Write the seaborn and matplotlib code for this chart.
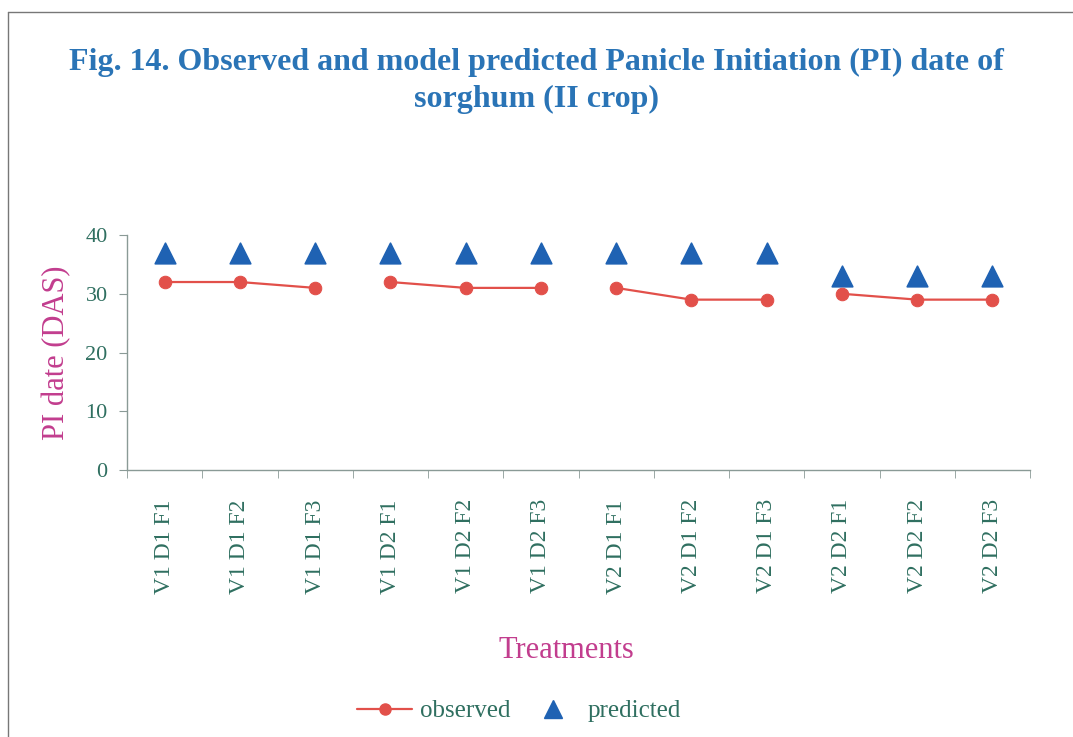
import matplotlib
matplotlib.use("Agg")
import matplotlib.pyplot as plt
from matplotlib.lines import Line2D
import seaborn as sns
import pandas as pd

# data
treatments = ["V1 D1 F1", "V1 D1 F2", "V1 D1 F3",
              "V1 D2 F1", "V1 D2 F2", "V1 D2 F3",
              "V2 D1 F1", "V2 D1 F2", "V2 D1 F3",
              "V2 D2 F1", "V2 D2 F2", "V2 D2 F3"]
groups = ["V1 D1"] * 3 + ["V1 D2"] * 3 + ["V2 D1"] * 3 + ["V2 D2"] * 3
observed = [32, 32, 31, 32, 31, 31, 31, 29, 29, 30, 29, 29]
predicted = [37, 37, 37, 37, 37, 37, 37, 37, 37, 33, 33, 33]

df = pd.DataFrame({"pos": range(len(treatments)), "treatment": treatments,
                   "group": groups, "observed": observed, "predicted": predicted})

sns.set_style("white")
plt.rcParams["font.family"] = ["Liberation Serif", "DejaVu Serif"]

red = "#e2504a"
blue = "#1f62b3"
teal = "#2f6f60"
pink = "#c23d8e"
title_blue = "#2a74b6"

fig = plt.figure(figsize=(10.73, 7.37), dpi=100)
ax = fig.add_axes([0.1184, 0.3623, 0.8416, 0.3188])

sns.lineplot(data=df, x="pos", y="observed", units="group", estimator=None,
             color=red, marker="o", markersize=9, markeredgecolor=red,
             linewidth=1.6, ax=ax, legend=False)
sns.scatterplot(data=df, x="pos", y="predicted", marker="^", color=blue,
                s=220, edgecolor=blue, ax=ax, legend=False)

ax.set_xlim(-0.5, len(treatments) - 0.5)
ax.set_ylim(0, 40)
ax.set_yticks([0, 10, 20, 30, 40])
ax.set_xticks(df["pos"])
ax.set_xticklabels(treatments, rotation=90)
ax.set_xticks([i + 0.5 for i in range(-1, len(treatments))], minor=True)
ax.tick_params(axis="x", which="major", length=0, pad=21, labelsize=17, labelcolor=teal)
ax.tick_params(axis="x", which="minor", length=6, direction="out", color="#8a9a96", bottom=True)
ax.tick_params(axis="y", length=6, direction="out", color="#8a9a96", left=True,
               labelsize=16, labelcolor=teal, pad=8)

for side in ["top", "right"]:
    ax.spines[side].set_visible(False)
for side in ["left", "bottom"]:
    ax.spines[side].set_color("#8a9a96")
    ax.spines[side].set_linewidth(1.0)

ax.set_xlabel("")
ax.set_ylabel("PI date (DAS)", fontsize=22, color=pink, labelpad=10)

fig.text(0.5, 0.89, "Fig. 14. Observed and model predicted Panicle Initiation (PI) date of\nsorghum (II crop)",
         ha="center", va="center", fontsize=23, fontweight="bold", color=title_blue,
         linespacing=1.38)
fig.text(0.528, 0.118, "Treatments", ha="center", va="center", fontsize=22, color=pink)

handles = [Line2D([], [], color=red, marker="o", markersize=8, linewidth=1.6),
           Line2D([], [], color=blue, marker="^", markersize=13, linestyle="none")]
leg = fig.legend(handles, ["observed", "predicted"], loc="center", bbox_to_anchor=(0.484, 0.035),
                 ncol=2, frameon=False, fontsize=18, handlelength=2.2, columnspacing=0.6,
                 handletextpad=0.3)
for t in leg.get_texts():
    t.set_color(teal)

# thin frame around the figure (left and top edges)
fig.add_artist(Line2D([0.0075, 0.0075], [0.0, 0.984], transform=fig.transFigure,
                      color="#777777", linewidth=1.0))
fig.add_artist(Line2D([0.0075, 1.0], [0.984, 0.984], transform=fig.transFigure,
                      color="#777777", linewidth=1.0))

fig.savefig("out.png", dpi=100)
